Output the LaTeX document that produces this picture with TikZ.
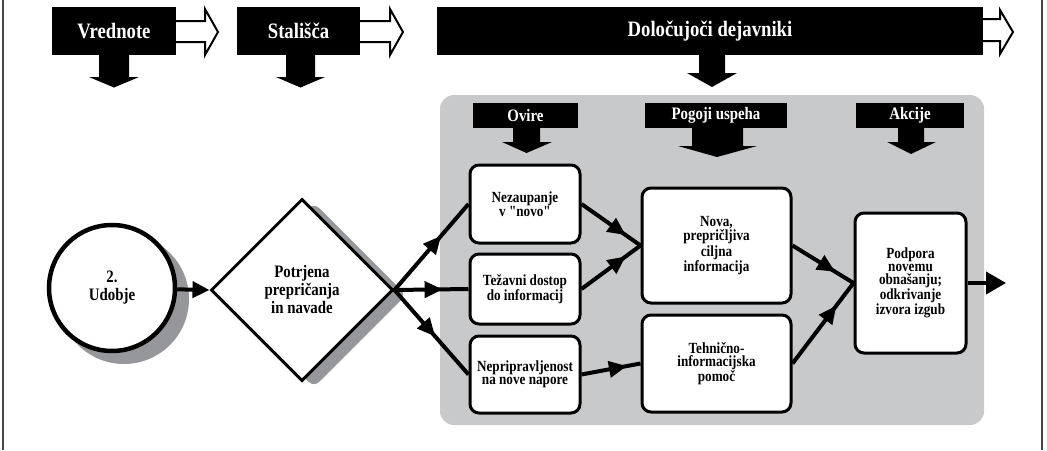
\documentclass[tikz,border=0pt]{standalone}
\usepackage{fontspec}
\setmainfont{Liberation Serif}[FakeStretch=0.85]
\newfontfamily\qfont{Liberation Serif}[FakeStretch=0.85]
\usetikzlibrary{arrows.meta,decorations.markings,shapes.geometric,calc}
\definecolor{panelgray}{RGB}{200,201,203}
\definecolor{shadowgray}{RGB}{150,151,154}
\definecolor{framegray}{RGB}{70,70,70}
\newcommand{\sq}{{\qfont\bfseries "}}
\tikzset{
  hdr/.style={fill=black, text=white, font=\fontsize{22pt}{24pt}\selectfont\bfseries, minimum height=48pt, inner sep=0pt},
  subhdr/.style={fill=black, text=white, font=\fontsize{17.5pt}{19pt}\selectfont\bfseries, minimum height=25pt, inner sep=0pt},
  box/.style={draw=black, line width=3pt, fill=white, rounded corners=9pt, align=center, inner sep=0pt, font=\fontsize{15.5pt}{13.2pt}\selectfont\bfseries},
  bigtext/.style={align=center, inner sep=0pt, font=\fontsize{17.5pt}{18pt}\selectfont\bfseries},
  conn/.style={line width=4pt},
  midarr/.style={postaction={decorate}, decoration={markings, mark=at position #1 with {\arrow{Triangle[length=18pt,width=16pt]}}}},
  hollow/.style={draw=black, fill=white, line width=2pt, line join=miter},
  downarr/.style={fill=black},
}
\begin{document}
\begin{tikzpicture}[x=1pt,y=-1pt]
\useasboundingbox (0,0) rectangle (1047,450);
% frame
\draw[framegray, line width=1.2pt] (3,0) -- (3,450);
\draw[framegray, line width=1.2pt] (1042,0) -- (1042,450);

% panel
\node[fill=panelgray, rounded corners=14pt, minimum width=544pt, minimum height=330pt, inner sep=0pt] (panel) at (712,260) {};

% top hollow arrows
\draw[hollow] (170,21) -- (205,21) -- (205,9) -- (218,32) -- (205,55) -- (205,42) -- (170,42);
\draw[hollow] (355,21) -- (390,21) -- (390,9) -- (403,32) -- (390,55) -- (390,42) -- (355,42);
\draw[hollow] (978,19) -- (1000,19) -- (1000,10) -- (1013,32) -- (1000,54) -- (1000,41) -- (978,41);

% top headers
\node[hdr, minimum width=124pt] (vred) at (114,31) {Vrednote};
\node[hdr, minimum width=123pt] (stal) at (298.5,31) {Stališča};
\node[hdr, minimum width=546pt] (dolo) at (710,31) {Določujoči dejavniki};

% top down arrows
\fill[downarr] (99,54) -- (129,54) -- (129,77) -- (139,77) -- (114,87.5) -- (89,77) -- (99,77) -- cycle;
\fill[downarr] (286,54) -- (315,54) -- (315,77) -- (325,77) -- (300.5,87.5) -- (276,77) -- (286,77) -- cycle;
\fill[downarr] (699,54) -- (725,54) -- (725,73) -- (737,73) -- (712,87) -- (687,73) -- (699,73) -- cycle;

% sub headers
\node[subhdr, minimum width=105pt] (ovir) at (525.5,115.5) {Ovire};
\node[subhdr, minimum width=142pt] (pogo) at (716,115.5) {Pogoji uspeha};
\node[subhdr, minimum width=108pt] (akci) at (910,115.5) {Akcije};
\fill[downarr] (513,127) -- (540,127) -- (540,142) -- (552,142) -- (526.5,153) -- (502,142) -- (513,142) -- cycle;
\fill[downarr] (692,127) -- (743,127) -- (743,146) -- (757,146) -- (717,157) -- (678,146) -- (692,146) -- cycle;
\fill[downarr] (898,127) -- (924,127) -- (924,142) -- (936,142) -- (911,154) -- (887,142) -- (898,142) -- cycle;

% shadows
\fill[shadowgray] (124,299) circle (65pt);
\fill[shadowgray, rounded corners=7pt] (314,203) -- (406,295) -- (314,387) -- (222,295) -- cycle;

% left shapes
\node[circle, draw=black, line width=4.5pt, fill=white, minimum size=126pt, bigtext] (udob) at (112,288) {2.\\Udobje};
\node[diamond, draw=black, line width=3pt, fill=white, minimum width=182pt, minimum height=182pt, bigtext] (potr) at (302,290) {Potrjena\\prepričanja\\in navade};

% boxes
\node[box, minimum width=110pt, minimum height=78pt] (nez) at (525,204) {Nezaupanje\\v \sq novo\sq};
\node[box, minimum width=110pt, minimum height=70pt] (tez) at (525,289) {Težavni dostop\\do informacij};
\node[box, minimum width=110pt, minimum height=77pt] (nep) at (525,374.5) {Nepripravljenost\\na nove napore};
\node[box, minimum width=149pt, minimum height=115pt] (nova) at (716.5,245.5) {Nova,\\prepričljiva\\ciljna\\informacija};
\node[box, minimum width=149pt, minimum height=97pt] (teh) at (716.5,363.5) {Tehnično-\\informacijska\\pomoč};
\node[box, minimum width=111pt, minimum height=140pt] (podp) at (910.5,283) {Podpora\\novemu\\obnašanju;\\odkrivanje\\izvora izgub};
\coordinate (out) at (1006,283);

% connectors
\draw[conn, -{Triangle[length=17pt,width=16pt]}] (udob) -- (potr.west);
\draw[conn, midarr=0.63] (potr.east) -- (nez.west);
\draw[conn, midarr=0.65] (potr.east) -- (tez.west);
\draw[conn, midarr=0.55] (potr.east) -- (nep.west);
\draw[conn, midarr=0.75] (nez.east) -- (nova.west);
\draw[conn, midarr=0.75] (tez.east) -- (nova.west);
\draw[conn, midarr=0.77] (nep.east) -- (teh.west);
\draw[conn, midarr=0.7] (nova.east) -- (podp.west);
\draw[conn, midarr=0.72] (teh.east) -- (podp.west);
\draw[conn, -{Triangle[length=20pt,width=22pt]}] (podp.east) -- (out);
\end{tikzpicture}
\end{document}
